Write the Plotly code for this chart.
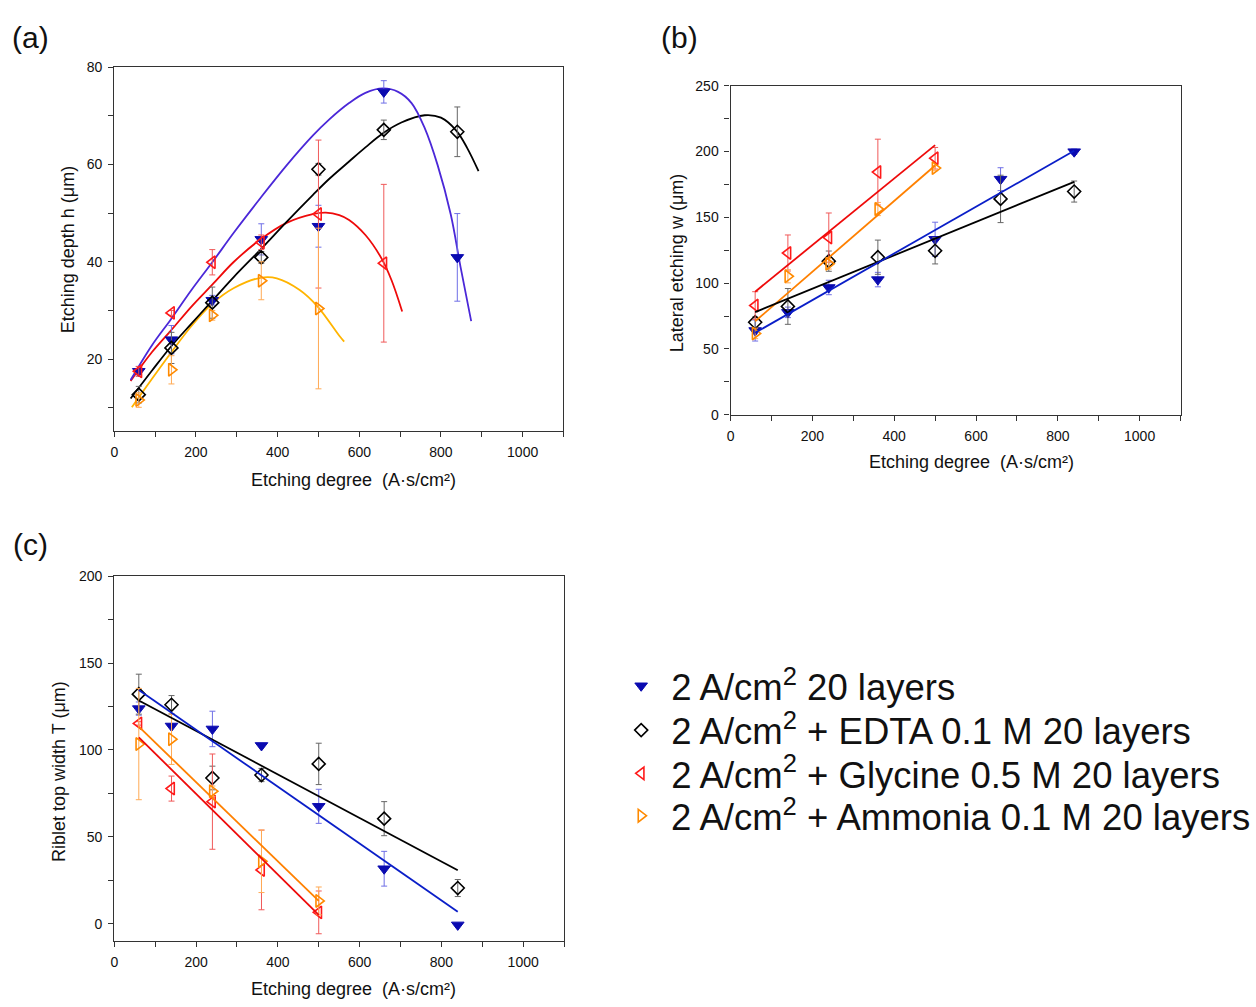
import plotly.graph_objects as go

FONT = "Liberation Sans, Arial, sans-serif"

# ---------------- data ----------------
X_ALL = [60, 140, 240, 360, 500, 660, 840]
X_RED_A = [60, 140, 240, 360, 500, 660]
X_FIVE = [60, 140, 240, 360, 500]

SERIES_NAMES = [
    "2 A/cm<sup>2</sup> 20 layers",
    "2 A/cm<sup>2</sup> + EDTA 0.1 M 20 layers",
    "2 A/cm<sup>2</sup> + Glycine 0.5 M 20 layers",
    "2 A/cm<sup>2</sup> + Ammonia 0.1 M 20 layers",
]

# (a) Etching depth h (um)
A_BLUE = [17.5, 24.0, 32.1, 44.6, 47.3, 74.9, 40.9]
A_BLUE_ERR = [1.0, 2.9, 1.0, 3.2, 4.3, 2.3, 9.0]
A_BLACK = [12.7, 22.3, 31.6, 40.9, 59.0, 67.1, 66.7]
A_BLACK_ERR = [1.7, 3.2, 3.2, 1.2, 1.2, 2.0, 5.1]
A_RED = [17.5, 29.5, 39.9, 44.0, 49.8, 39.7]
A_RED_ERR = [1.0, 0.5, 2.6, 1.5, 15.2, 16.2]
A_ORANGE = [11.6, 17.8, 29.0, 36.1, 30.4]
A_ORANGE_ERR = [1.5, 2.9, 1.0, 3.9, 16.5]

# (a) fitted curves
A_BLUE_FIT_X = [40, 92, 138, 189, 240, 293, 358, 422, 486, 526, 575, 615, 658, 695, 728, 760, 792, 824, 848, 874]
A_BLUE_FIT_Y = [15.7, 22.8, 28.1, 34.2, 39.9, 46.0, 53.1, 59.8, 65.9, 69.2, 72.6, 74.7, 75.6, 74.9, 72.6, 67.5, 59.8, 49.7, 38.9, 27.8]
A_BLACK_FIT_X = [40, 92, 138, 189, 240, 293, 358, 422, 486, 526, 575, 615, 658, 703, 760, 800, 838, 864, 892]
A_BLACK_FIT_Y = [11.9, 17.6, 22.5, 27.3, 32.0, 36.9, 42.5, 48.2, 53.7, 57.0, 60.6, 63.5, 66.4, 68.6, 70.1, 69.6, 66.9, 63.4, 58.6]
A_RED_FIT_X = [40, 92, 138, 189, 240, 293, 358, 422, 486, 518, 551, 575, 615, 655, 679, 705]
A_RED_FIT_Y = [15.5, 21.4, 25.8, 30.8, 35.3, 40.0, 44.6, 48.0, 49.8, 50.1, 49.6, 48.6, 45.5, 40.6, 36.2, 29.8]
A_ORANGE_FIT_X = [43, 92, 138, 189, 240, 293, 358, 398, 454, 498, 551, 563]
A_ORANGE_FIT_Y = [10.1, 15.9, 21.2, 26.8, 31.4, 34.6, 36.7, 36.6, 34.2, 30.8, 24.8, 23.6]

# (b) Lateral etching w (um)
B_BLUE = [64.0, 77.8, 96.7, 102.7, 133.3, 179.0, 199.9]
B_BLUE_ERR = [8.0, 4.0, 5.5, 5.5, 13.0, 8.7, 2.0]
B_BLACK = [70.3, 82.3, 116.7, 119.7, 124.6, 164.0, 169.6]
B_BLACK_ERR = [4.0, 13.6, 7.7, 13.0, 10.0, 18.0, 8.0]
B_RED = [83.0, 122.9, 134.6, 184.4, 194.9]
B_RED_ERR = [10.5, 13.7, 18.7, 25.0, 8.2]
B_ORANGE = [61.8, 105.2, 114.7, 156.3, 187.4]
B_ORANGE_ERR = [4.0, 5.0, 4.0, 5.0, 2.0]
B_LONG_FIT_X = [60, 840]
B_SHORT_FIT_X = [60, 500]
B_BLUE_FIT = [62.3, 200.6]
B_BLACK_FIT = [78.0, 177.0]
B_RED_FIT = [93.5, 204.9]
B_ORANGE_FIT = [71.0, 189.4]

# (c) Riblet top width T (um)
C_BLUE = [123.8, 113.8, 112.1, 102.6, 67.6, 31.7, -0.6]
C_BLUE_ERR = [3.8, 0.5, 10.2, 0.5, 9.8, 10.0, 0.0]
C_BLACK = [132.1, 126.0, 83.9, 85.6, 92.0, 60.5, 20.6]
C_BLACK_ERR = [11.5, 5.3, 6.8, 3.8, 11.9, 9.8, 4.9]
C_RED = [115.3, 77.8, 70.3, 31.0, 6.6]
C_RED_ERR = [1.0, 7.2, 27.4, 22.9, 12.3]
C_ORANGE = [103.4, 106.2, 76.3, 36.0, 13.2]
C_ORANGE_ERR = [32.0, 14.5, 3.0, 18.0, 8.0]
C_BLUE_FIT = [134.5, 7.0]
C_BLACK_FIT = [128.5, 30.8]
C_RED_FIT = [107.3, 5.1]
C_ORANGE_FIT = [113.4, 13.2]

# ---------------- styles ----------------
MARK = {
    "blue": dict(symbol="triangle-down", color="#0a0ab0", size=11, line=dict(color="#0a0ab0", width=1)),
    "black": dict(symbol="diamond-open", color="#000000", size=10, line=dict(color="#000000", width=1.6)),
    "red": dict(symbol="triangle-left-open", color="#ff1a1a", size=11, line=dict(color="#ff1a1a", width=1.6)),
    "orange": dict(symbol="triangle-right-open", color="#ff8a00", size=11, line=dict(color="#ff8a00", width=1.6)),
}
ERRC = {"blue": "#6f6fe6", "black": "#666666", "red": "#f05a5a", "orange": "#ffaa55"}
LINE_A = {"blue": "#4b28d8", "black": "#000000", "red": "#ee0a0a", "orange": "#ffb400"}
LINE_BC = {"blue": "#0a1ec8", "black": "#000000", "red": "#ee0a0a", "orange": "#ff8000"}
LEGEND_IDS = ["legend", "legend2", "legend3", "legend4"]

fig = go.Figure()


def add_points(x, y, err, key, ax, name_idx, legend):
    fig.add_trace(go.Scatter(
        x=x, y=y, mode="markers", name=SERIES_NAMES[name_idx],
        marker=MARK[key],
        error_y=dict(type="data", array=err, visible=True, color=ERRC[key], thickness=1, width=3),
        xaxis="x" + ax, yaxis="y" + ax, showlegend=legend, legend=LEGEND_IDS[name_idx],
    ))


def add_line(x, y, key, ax, colors, shape="linear"):
    fig.add_trace(go.Scatter(
        x=x, y=y, mode="lines", line=dict(color=colors[key], width=1.8, shape=shape),
        xaxis="x" + ax, yaxis="y" + ax, showlegend=False, hoverinfo="skip",
    ))


# panel (a)
add_line(A_ORANGE_FIT_X, A_ORANGE_FIT_Y, "orange", "", LINE_A, "spline")
add_line(A_RED_FIT_X, A_RED_FIT_Y, "red", "", LINE_A, "spline")
add_line(A_BLACK_FIT_X, A_BLACK_FIT_Y, "black", "", LINE_A, "spline")
add_line(A_BLUE_FIT_X, A_BLUE_FIT_Y, "blue", "", LINE_A, "spline")
add_points(X_ALL, A_BLUE, A_BLUE_ERR, "blue", "", 0, True)
add_points(X_ALL, A_BLACK, A_BLACK_ERR, "black", "", 1, True)
add_points(X_RED_A, A_RED, A_RED_ERR, "red", "", 2, True)
add_points(X_FIVE, A_ORANGE, A_ORANGE_ERR, "orange", "", 3, True)

# panel (b)
add_points(X_ALL, B_BLUE, B_BLUE_ERR, "blue", "2", 0, False)
add_points(X_ALL, B_BLACK, B_BLACK_ERR, "black", "2", 1, False)
add_points(X_FIVE, B_RED, B_RED_ERR, "red", "2", 2, False)
add_points(X_FIVE, B_ORANGE, B_ORANGE_ERR, "orange", "2", 3, False)
add_line(B_SHORT_FIT_X, B_ORANGE_FIT, "orange", "2", LINE_BC)
add_line(B_SHORT_FIT_X, B_RED_FIT, "red", "2", LINE_BC)
add_line(B_LONG_FIT_X, B_BLACK_FIT, "black", "2", LINE_BC)
add_line(B_LONG_FIT_X, B_BLUE_FIT, "blue", "2", LINE_BC)

# panel (c)
add_points(X_ALL, C_BLUE, C_BLUE_ERR, "blue", "3", 0, False)
add_points(X_ALL, C_BLACK, C_BLACK_ERR, "black", "3", 1, False)
add_points(X_FIVE, C_RED, C_RED_ERR, "red", "3", 2, False)
add_points(X_FIVE, C_ORANGE, C_ORANGE_ERR, "orange", "3", 3, False)
add_line(B_SHORT_FIT_X, C_ORANGE_FIT, "orange", "3", LINE_BC)
add_line(B_SHORT_FIT_X, C_RED_FIT, "red", "3", LINE_BC)
add_line(B_LONG_FIT_X, C_BLACK_FIT, "black", "3", LINE_BC)
add_line(B_LONG_FIT_X, C_BLUE_FIT, "blue", "3", LINE_BC)

W, H = 1256, 1007


def px_x(p):
    return p / W


def px_y(p):
    return 1 - p / H


def axis(domain, rng, dtick, minor, anchor):
    return dict(
        domain=domain, range=rng, dtick=dtick, tick0=0, anchor=anchor,
        showline=True, linecolor="#333333", linewidth=1.3, mirror=True,
        ticks="outside", ticklen=5, tickwidth=1.2, tickcolor="#333333",
        minor=dict(dtick=minor, ticks="outside", ticklen=5, tickwidth=1.2, tickcolor="#333333"),
        showgrid=False, zeroline=False, fixedrange=True,
        tickfont=dict(family=FONT, size=14, color="#111111"),
        ticklabelstandoff=3,
    )


AX_A = [px_x(111.7), px_x(566.7)]
AY_A = [px_y(430), px_y(60)]
AX_B = [px_x(736), px_x(1191.7)]
AY_B = [px_y(413.3), px_y(79)]
AX_C = [px_x(111.7), px_x(567.3)]
AY_C = [px_y(948.3), px_y(577.3)]


def legend_box(row_center):
    return dict(
        x=px_x(615), y=px_y(row_center), xanchor="left", yanchor="middle",
        font=dict(family=FONT, size=36.5, color="#111111"),
        bgcolor="rgba(0,0,0,0)", itemsizing="trace", itemwidth=50,
    )


fig.update_layout(
    width=W, height=H, autosize=False,
    margin=dict(l=0, r=0, t=0, b=0),
    paper_bgcolor="white", plot_bgcolor="white",
    font=dict(family=FONT, size=14, color="#111111"),
    xaxis=axis(AX_A, [0, 1100], 200, 100, "y"),
    yaxis=axis(AY_A, [5.2, 80], 20, 10, "x"),
    xaxis2=axis(AX_B, [0, 1100], 200, 100, "y2"),
    yaxis2=axis(AY_B, [0, 250], 50, 25, "x2"),
    xaxis3=axis(AX_C, [0, 1100], 200, 100, "y3"),
    yaxis3=axis(AY_C, [-10, 200], 50, 25, "x3"),
    legend=legend_box(689),
    legend2=legend_box(734),
    legend3=legend_box(778),
    legend4=legend_box(821),
    showlegend=True,
)

XT = "Etching degree  (A·s/cm²)"
annotations = []
for txt, cx, cy in [("(a)", 27, 30), ("(b)", 684, 30), ("(c)", 27, 545)]:
    annotations.append(dict(text=txt, x=px_x(cx), y=px_y(cy), xref="paper", yref="paper",
                            showarrow=False, xanchor="center", yanchor="middle",
                            font=dict(family=FONT, size=30, color="#111111")))
for txt, cx, cy in [(XT, 354, 480), (XT, 980, 461), (XT, 354, 997)]:
    annotations.append(dict(text=txt, x=px_x(cx), y=px_y(cy), xref="paper", yref="paper",
                            showarrow=False, xanchor="center", yanchor="middle",
                            font=dict(family=FONT, size=18, color="#111111")))
for txt, cx, cy in [("Etching depth h (μm)", 65, 246),
                    ("Lateral etching w (μm)", 682, 259),
                    ("Riblet top width T (μm)", 55, 776)]:
    annotations.append(dict(text=txt, x=px_x(cx), y=px_y(cy), xref="paper", yref="paper",
                            showarrow=False, xanchor="center", yanchor="middle", textangle=-90,
                            font=dict(family=FONT, size=18, color="#111111")))
fig.update_layout(annotations=annotations)

fig.write_html("out.html")
